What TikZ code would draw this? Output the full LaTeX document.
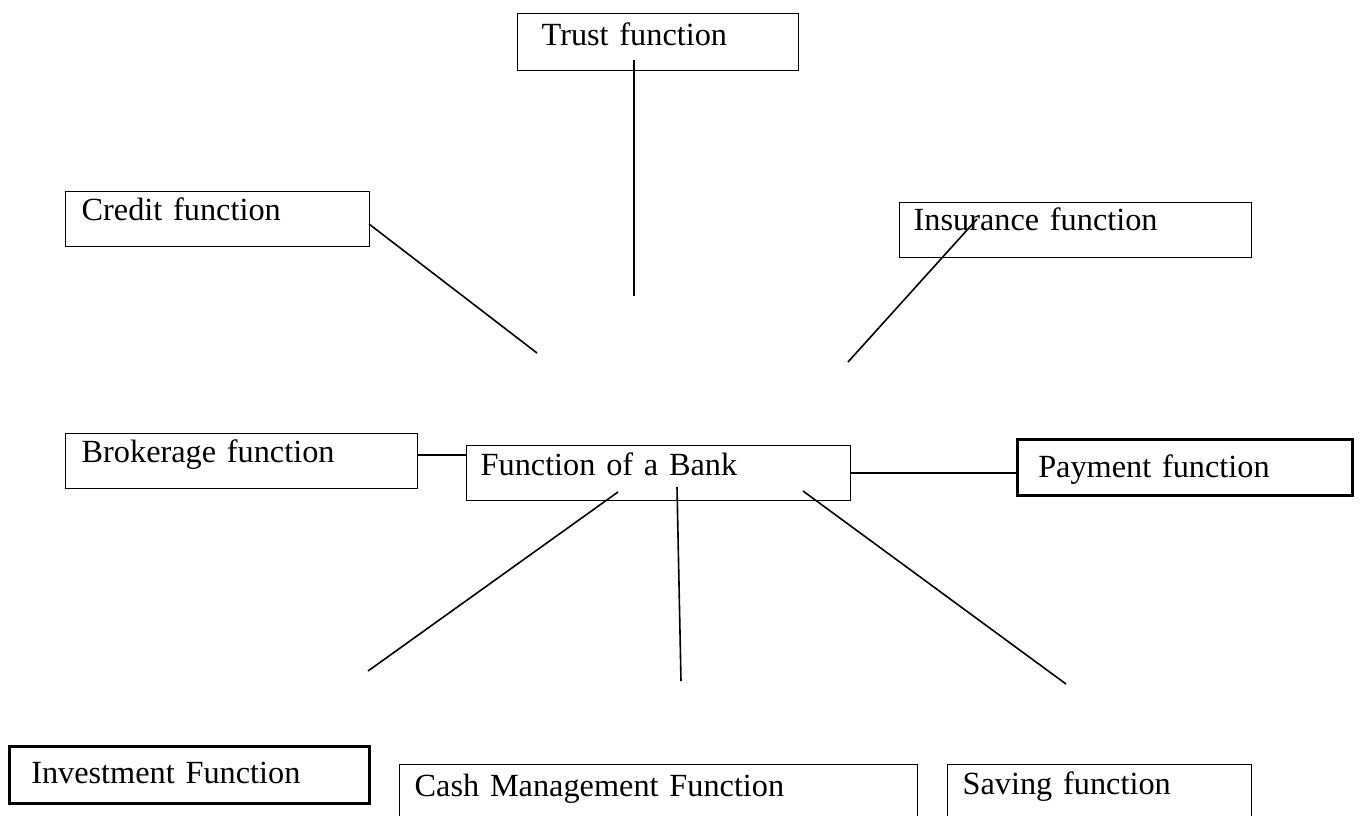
\documentclass[tikz,border=0pt]{standalone}
\usepackage{fontspec}
\setmainfont{Liberation Serif}
\usepackage{tikz}
\tikzstyle{fbox} = [draw, line width=0.65pt, anchor=north west, align=left, inner ysep=0pt,
    text height=15pt, font=\fontsize{16.15pt}{19pt}\selectfont]
\tikzstyle{heavy} = [line width=1.25pt]
\tikzstyle{link} = [line width=0.8pt]

\begin{document}
\begin{tikzpicture}[x=0.5pt, y=-0.5pt]
\useasboundingbox (0,0) rectangle (1360,815);
% boxes
\node[fbox, inner xsep=12pt, text width=116.5pt, text height=16pt, text depth=12.5pt] (trust) at (517,13) {Trust function};
\node[fbox, inner xsep=8pt, text width=136pt, text height=14.5pt, text depth=13pt] (credit) at (65,191) {Credit function};
\node[fbox, inner xsep=7pt, text width=162pt, text height=14pt, text depth=13.5pt] (insur) at (899,202) {Insurance function};
\node[fbox, inner xsep=8pt, text width=160pt, text height=14.5pt, text depth=13pt] (broker) at (65,433) {Brokerage function};
\node[fbox, inner xsep=7pt, text width=178pt, text depth=12.5pt] (bank) at (466,445) {Function of a Bank};
\node[fbox, heavy, inner xsep=10.5pt, text width=146.5pt, text height=19pt, text depth=9pt] (pay) at (1016,438) {Payment function};
\node[fbox, heavy, inner xsep=11pt, text width=158pt, text height=18.5pt, text depth=10pt] (invest) at (8,745) {Investment Function};
\node[fbox, inner xsep=7.5pt, text width=244pt, text height=16pt, text depth=14pt] (cash) at (399,764) {Cash Management Function};
\node[fbox, inner xsep=7.5pt, text width=137pt, text depth=15pt] (saving) at (947,764) {Saving function};
% free ends of the connectors
\coordinate (t1) at (634,60);  \coordinate (t2) at (634,296);
\coordinate (c1) at (369,224); \coordinate (c2) at (537,353);
\coordinate (i1) at (977,219); \coordinate (i2) at (848,362);
\coordinate (b1) at (417,455); \coordinate (b2) at (466,455);
\coordinate (v1) at (618,492); \coordinate (v2) at (368,671);
\coordinate (m1) at (677,487); \coordinate (m2) at (681,681);
\coordinate (s1) at (803,491); \coordinate (s2) at (1066,684);
% connectors
\draw[link] (t1) -- (t2);
\draw[link] (c1) -- (c2);
\draw[link] (i1) -- (i2);
\draw[link] (b1) -- (b2);
\draw[link] (bank.east) -- (pay.west |- bank.east);
\draw[link] (v1) -- (v2);
\draw[link] (m1) -- (m2);
\draw[link] (s1) -- (s2);
\end{tikzpicture}
\end{document}
